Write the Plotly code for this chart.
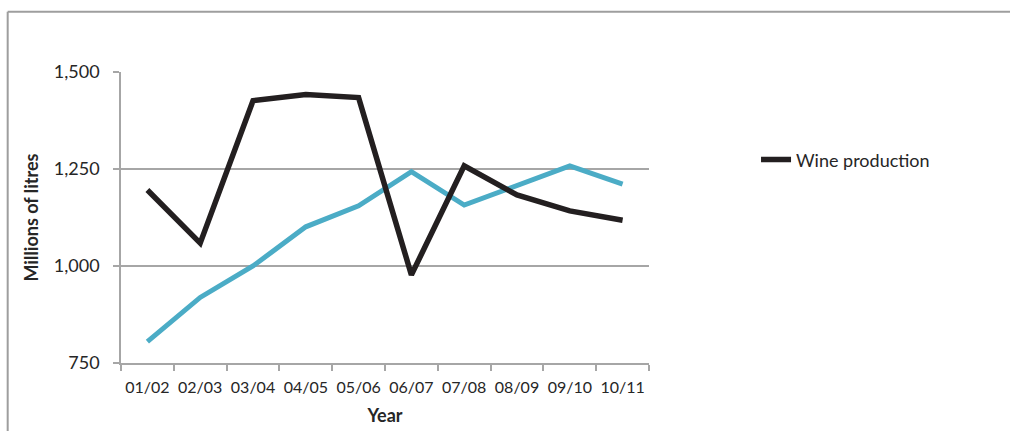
import plotly.graph_objects as go

years = ["01/02", "02/03", "03/04", "04/05", "05/06",
         "06/07", "07/08", "08/09", "09/10", "10/11"]
wine_production = [1196, 1059, 1426, 1442, 1434, 977, 1258, 1183, 1142, 1118]
wine_consumption = [805, 919, 1000, 1101, 1155, 1243, 1157, 1206, 1258, 1211]

FONT = "Lato"
GRID = "#a6a6a6"
TEXT = "#262626"

fig = go.Figure()
fig.add_trace(go.Scatter(
    x=years, y=wine_consumption, mode="lines", name="Wine consumption",
    line=dict(color="#4bacc6", width=5), showlegend=False,
))
fig.add_trace(go.Scatter(
    x=years, y=wine_production, mode="lines", name="Wine production",
    line=dict(color="#231f20", width=5.5),
))

fig.update_layout(
    width=1010, height=431,
    margin=dict(l=121, r=361, t=72, b=68, autoexpand=False),
    paper_bgcolor="white", plot_bgcolor="white",
    font=dict(family=FONT, color=TEXT, size=16),
    legend=dict(
        x=1.2027, y=0.698, xanchor="left", yanchor="middle",
        font=dict(family=FONT, size=18, color=TEXT),
        bgcolor="rgba(0,0,0,0)", itemwidth=30,
    ),
    shapes=[
        dict(type="line", xref="paper", yref="paper",
             x0=-0.2146, x1=1.7, y0=1.2069, y1=1.2069,
             line=dict(color="#9e9e9e", width=2)),
        dict(type="line", xref="paper", yref="paper",
             x0=-0.2146, x1=-0.2146, y0=-0.3, y1=1.2069,
             line=dict(color="#9e9e9e", width=2)),
    ],
)

fig.update_xaxes(
    type="category", tickson="boundaries", range=[-0.5, 9.5],
    showline=True, linecolor=GRID, linewidth=1.5,
    ticks="outside", ticklen=6, tickcolor=GRID, tickwidth=1.5,
    ticklabelstandoff=9, tickangle=0, automargin=False,
    showgrid=False, tickfont=dict(size=16, color=TEXT),
    title=dict(text="<b>Year</b>", font=dict(size=18, color=TEXT), standoff=14),
)
fig.update_yaxes(
    range=[750, 1500], tickvals=[750, 1000, 1250, 1500],
    tickformat=",d", automargin=False,
    showline=True, linecolor=GRID, linewidth=1.5,
    ticks="outside", ticklen=6, tickcolor=GRID, tickwidth=1.5,
    ticklabelstandoff=10,
    showgrid=True, gridcolor=GRID, gridwidth=1.5,
    zeroline=False, tickfont=dict(size=18, color=TEXT),
    title=dict(text="<b>Millions of litres</b>", font=dict(size=18, color=TEXT), standoff=10),
)

fig.write_html("out.html")
